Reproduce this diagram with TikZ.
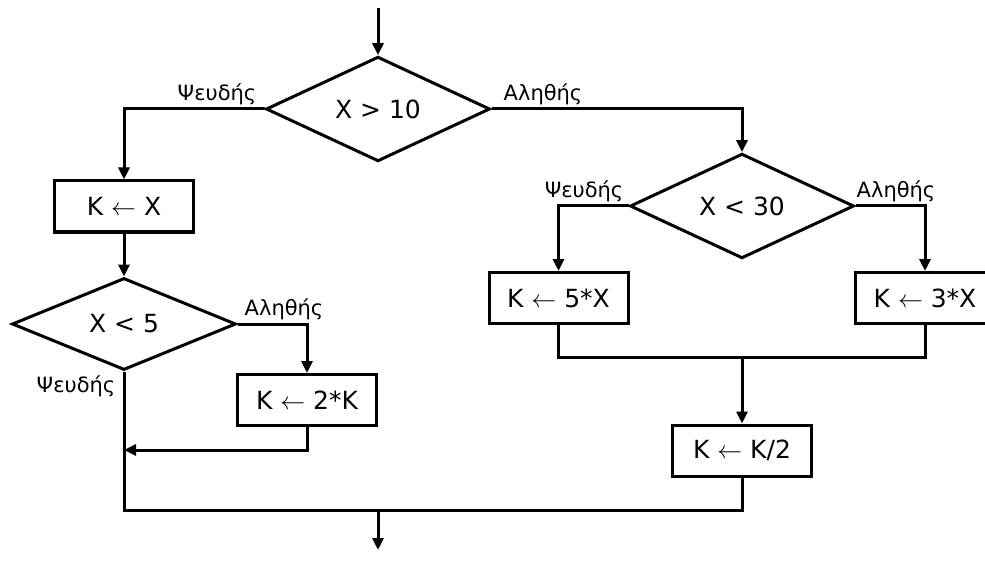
\documentclass[tikz,border=0pt]{standalone}
\usepackage{fontspec}
\setmainfont{DejaVu Sans}
\usetikzlibrary{shapes.geometric,arrows.meta}
\begin{document}
\begin{tikzpicture}[x=1pt,y=-1pt,
  line width=3pt,
  arr/.style={-{Triangle[length=12pt,width=11pt]}},
  dec/.style={diamond, draw, inner sep=0pt, minimum width=224pt, minimum height=92pt,
    font=\fontsize{25}{30}\selectfont},
  box/.style={rectangle, draw, inner sep=0pt, minimum width=139pt, minimum height=51pt,
    font=\fontsize{25}{30}\selectfont},
  lab/.style={inner sep=0pt, font=\fontsize{21}{24}\selectfont}]
\useasboundingbox (0,0) rectangle (985,564);
\clip (0,0) rectangle (985,564);
% decisions
\node[dec] (d1) at (378,109) {X > 10};
\node[dec] (d2) at (124,324) {X < 5};
\node[dec] (d3) at (742,206) {X < 30};
% processes
\node[box] (b1) at (124,206.5) {K $\leftarrow$ X};
\node[box] (b2) at (307,400) {K $\leftarrow$ 2*K};
\node[box] (b3) at (558.5,298) {K $\leftarrow$ 5*X};
\node[box] (b4) at (925,298) {K $\leftarrow$ 3*X};
\node[box] (b5) at (742,450.5) {K $\leftarrow$ K/2};
% labels
\node[lab] (l1) at (217,94) {Ψευδής};
\node[lab] (l2) at (543,94) {Αληθής};
\node[lab] (l3) at (284,309) {Αληθής};
\node[lab] (l4) at (76,386) {Ψευδής};
\node[lab] (l5) at (584,191) {Ψευδής};
\node[lab] (l6) at (896,191) {Αληθής};
% coordinates
\coordinate (start) at (378,8);
\coordinate (j1) at (124,450);
\coordinate (j2) at (124,510);
\coordinate (j3) at (742,357);
\coordinate (j4) at (378,510);
\coordinate (stop) at (378,550);
% connectors
\draw[arr] (start) -- (d1.north);
\draw[arr] (d1.west) -| (b1.north);
\draw[arr] (b1.south) -- (d2.north);
\draw[arr] (d2.east) -| (b2.north);
\draw[arr] (b2.south) |- (j1);
\draw (d2.south) -- (j2) -| (b5.south);
\draw[arr] (d1.east) -| (d3.north);
\draw[arr] (d3.west) -| (b3.north);
\draw[arr] (d3.east) -| (b4.north);
\draw (b3.south) |- (j3) -| (b4.south);
\draw[arr] (j3) -- (b5.north);
\draw[arr] (j4) -- (stop);
\end{tikzpicture}
\end{document}
